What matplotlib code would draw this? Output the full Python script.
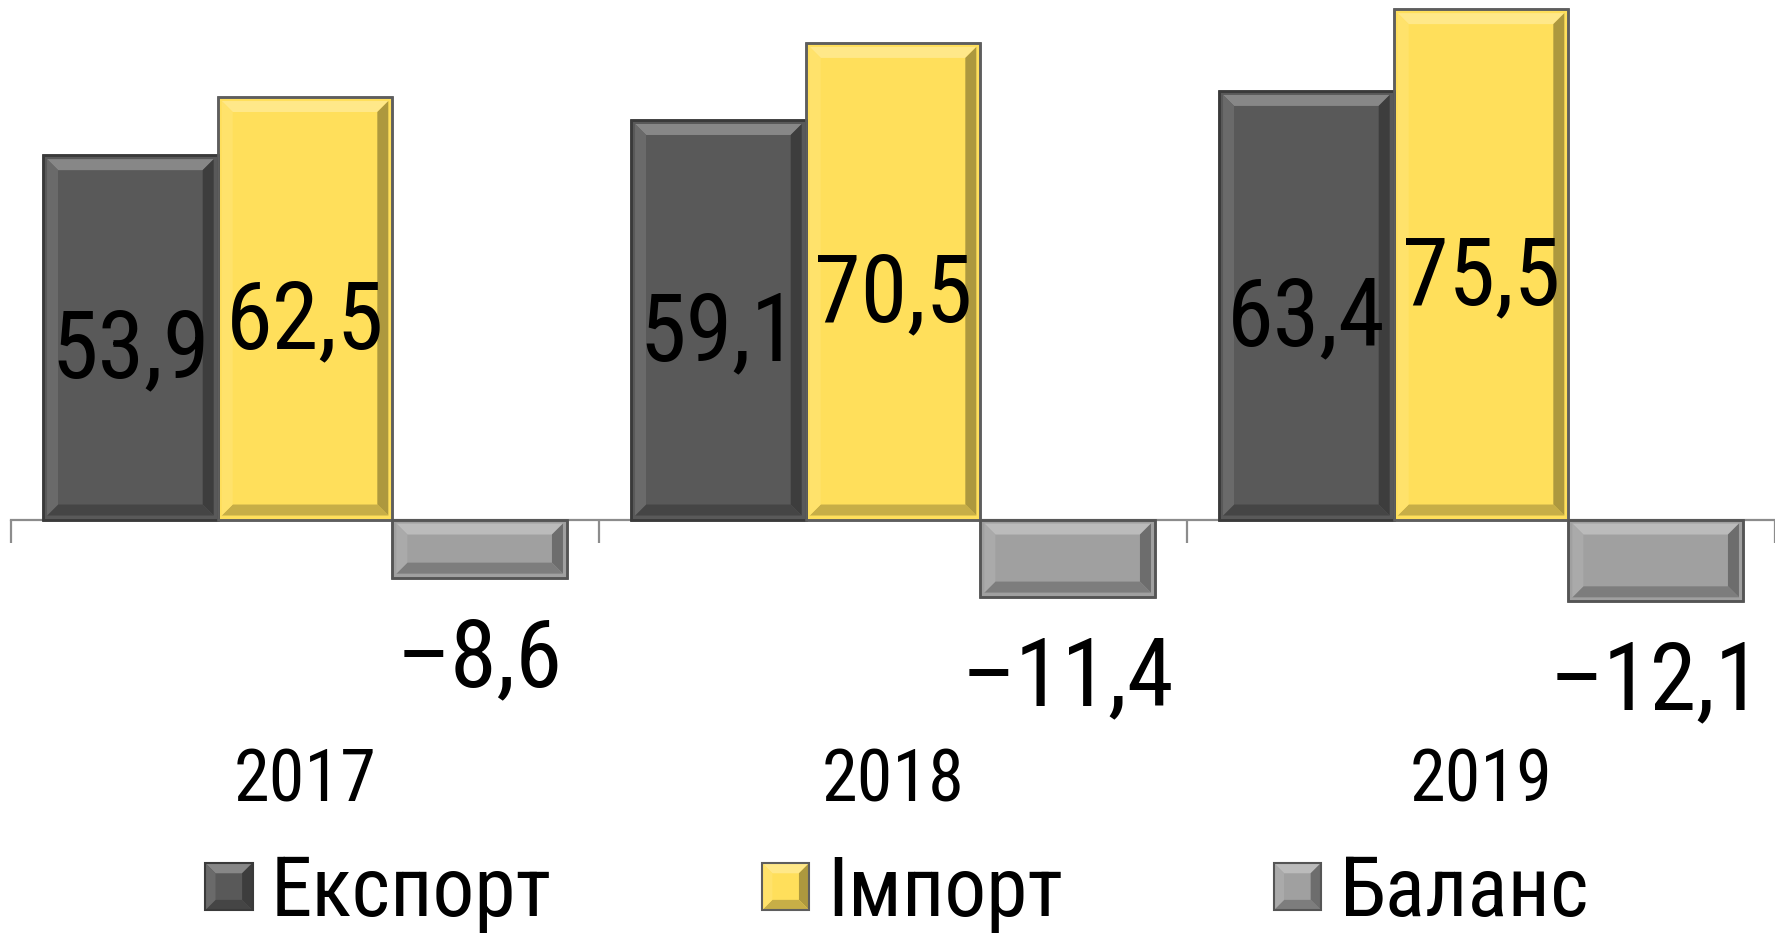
import numpy as np
import matplotlib
matplotlib.use("Agg")
import matplotlib.pyplot as plt
from matplotlib.patches import Polygon, Rectangle
from matplotlib.legend_handler import HandlerBase
from matplotlib.container import BarContainer
from matplotlib.colors import to_rgb

plt.rcParams['font.family'] = ['Roboto Condensed', 'Liberation Sans Narrow', 'DejaVu Sans']

# ---- data ----
years = ['2017', '2018', '2019']
series_names = ['Експорт', 'Імпорт', 'Баланс']
export_vals = [53.9, 59.1, 63.4]
import_vals = [62.5, 70.5, 75.5]
balance_vals = [-8.6, -11.4, -12.1]

faces = ['#595959', '#FFDF5B', '#A0A0A0']
edges = ['#3A3A3A', '#5E5E5E', '#555555']


def mix(c, target, t):
    c = np.array(to_rgb(c)); target = np.array(to_rgb(target))
    return tuple(c * (1 - t) + target * t)


def bevel_polys(x0, y0, x1, y1, dx, dy, face):
    x0, x1 = min(x0, x1), max(x0, x1)
    y0, y1 = min(y0, y1), max(y0, y1)
    ox = [(x0, y1), (x1, y1), (x1, y0), (x0, y0)]  # TL, TR, BR, BL
    ix = [(x0 + dx, y1 - dy), (x1 - dx, y1 - dy), (x1 - dx, y0 + dy), (x0 + dx, y0 + dy)]
    top = [ox[0], ox[1], ix[1], ix[0]]
    right = [ox[1], ox[2], ix[2], ix[1]]
    bottom = [ox[2], ox[3], ix[3], ix[2]]
    left = [ox[3], ox[0], ix[0], ix[3]]
    cols = [mix(face, 'white', 0.28), mix(face, 'black', 0.32),
            mix(face, 'black', 0.22), mix(face, 'white', 0.10)]
    return [(p, c) for p, c in zip([top, right, bottom, left], cols)]


fig = plt.figure(figsize=(17.75, 9.4), dpi=100)
ax = fig.add_axes([11 / 1775, 0, 1 - 11 / 1775, 1])
ax.set_xlim(-0.5, 2.5)
ax.set_ylim(-62.2, 76.85)

x = np.arange(len(years))
w = 0.297

sx = ax.transData.transform((1, 0))[0] - ax.transData.transform((0, 0))[0]
sy = ax.transData.transform((0, 1))[1] - ax.transData.transform((0, 0))[1]
gap_px, bev_px = 4, 11
gx, gy = gap_px / sx, gap_px / sy
dx, dy = bev_px / sx, bev_px / sy

all_series = [export_vals, import_vals, balance_vals]
for k, vals in enumerate(all_series):
    bars = ax.bar(x + (k - 1) * w, vals, w, color=faces[k], edgecolor=edges[k],
                  linewidth=1.8, zorder=2, label=series_names[k])
    for patch in bars.patches:
        bb = patch.get_bbox()
        bx0, bx1 = min(bb.x0, bb.x1), max(bb.x0, bb.x1)
        by0, by1 = min(bb.y0, bb.y1), max(bb.y0, bb.y1)
        for poly, col in bevel_polys(bx0 + gx, by0 + gy, bx1 - gx, by1 - gy, dx, dy, faces[k]):
            ax.add_patch(Polygon(poly, closed=True, facecolor=col, edgecolor='none', zorder=2.5))
        ax.add_patch(Rectangle((bx0, by0), bx1 - bx0, by1 - by0, fill=False,
                               edgecolor=edges[k], linewidth=1.8, zorder=2.6))
    for xi, v in zip(x + (k - 1) * w, vals):
        txt = f"{abs(v):.1f}".replace('.', ',')
        if v >= 0:
            ax.annotate(txt, (xi, v / 2), xytext=(0, -29), textcoords='offset points',
                        ha='center', va='baseline', fontsize=68, color='black', zorder=5)
        else:
            ax.annotate('\u2013' + txt, (xi, v), xytext=(0, -78), textcoords='offset points',
                        ha='center', va='baseline', fontsize=68, color='black', zorder=5)

# category labels
for xi, yr in zip(x, years):
    ax.annotate(yr, (xi, 0), xytext=(0, -203), textcoords='offset points',
                ha='center', va='baseline', fontsize=52, color='black')

# axis at zero
for s in ['top', 'right', 'left']:
    ax.spines[s].set_visible(False)
ax.spines['bottom'].set_position(('data', 0))
ax.spines['bottom'].set_color('#8C8C8C')
ax.spines['bottom'].set_linewidth(1.6)
ax.spines['bottom'].set_zorder(1)
ax.set_xticks(np.arange(len(years) + 1) - 0.5)
ax.set_xticklabels([])
ax.tick_params(axis='x', direction='out', length=16.5, width=1.6, color='#8C8C8C')
ax.set_yticks([])


class BevelHandler(HandlerBase):
    def create_artists(self, legend, orig_handle, xdescent, ydescent, width, height,
                       fontsize, trans):
        p = orig_handle.patches[0]
        face = p.get_facecolor()
        edge = p.get_edgecolor()
        s = min(width, height)
        x0 = -xdescent + (width - s) / 2
        y0 = -ydescent + (height - s) / 2
        arts = [Rectangle((x0, y0), s, s, facecolor=face, edgecolor='none', transform=trans)]
        b = s * 0.22
        for poly, col in bevel_polys(x0, y0, x0 + s, y0 + s, b, b, face[:3]):
            arts.append(Polygon(poly, closed=True, facecolor=col, edgecolor='none', transform=trans))
        arts.append(Rectangle((x0, y0), s, s, fill=False, edgecolor=edge, linewidth=1.5,
                              transform=trans))
        return arts


handles, labels = ax.get_legend_handles_labels()
fig.legend(handles, labels, loc='center', bbox_to_anchor=(897 / 1775, 1 - 893 / 940),
           ncol=3, frameon=False, fontsize=60, columnspacing=2.52, handletextpad=0.22,
           handlelength=0.57, handleheight=0.57,
           handler_map={BarContainer: BevelHandler()})

fig.savefig('out.png', dpi=100)
